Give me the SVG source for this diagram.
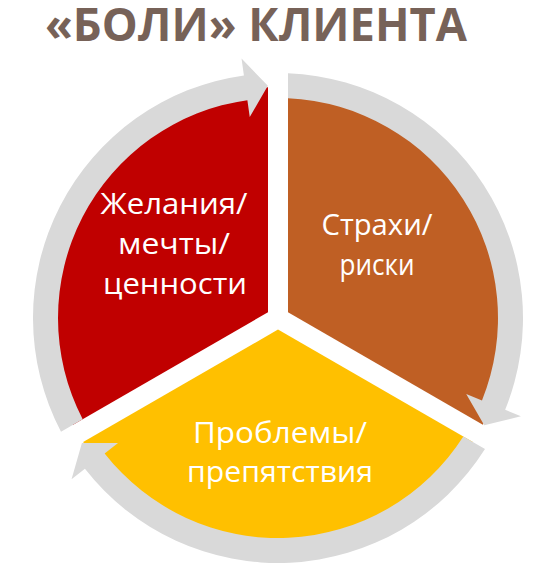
<svg xmlns="http://www.w3.org/2000/svg" width="555" height="573" viewBox="0 0 555 573">
  <style>
    .title { font-family: "Open Sans", "Liberation Sans", sans-serif; font-weight: 700; font-size: 46px; fill: #776258; }
    .lbl { font-family: "Open Sans", "Liberation Sans", sans-serif; font-size: 29px; fill: #FFFFFF; text-anchor: middle; }
    .ring { fill: #D9D9D9; }
  </style>
  <defs>
    <path id="arrow" d="M 10,-219.77 L 10,-244.80 A 245 245 0 0 1 227.16,91.78 L 242.92,98.15 L 206.23,107.35 L 188.22,76.05 L 203.98,82.41 A 220 220 0 0 0 10,-219.77 Z"/>
  </defs>
  <rect width="555" height="573" fill="#FFFFFF"/>
  <text class="title" x="256" y="41" text-anchor="middle" textLength="422" lengthAdjust="spacingAndGlyphs">«БОЛИ» КЛИЕНТА</text>

  <g id="node-desires">
    <path d="M 268,312.23 L 73.14,424.73 A 231 231 0 0 1 268,87.22 Z" fill="#C00000"/>
    <text class="lbl" x="174" y="214" textLength="147" lengthAdjust="spacingAndGlyphs">Желания/</text>
    <text class="lbl" x="174" y="254" textLength="112" lengthAdjust="spacingAndGlyphs">мечты/</text>
    <text class="lbl" x="175" y="294" textLength="144" lengthAdjust="spacingAndGlyphs">ценности</text>
  </g>

  <g id="node-fears">
    <path d="M 288,312.23 L 288,87.22 A 231 231 0 0 1 482.86,424.73 Z" fill="#BF5F24"/>
    <text class="lbl" x="377" y="235" textLength="111" lengthAdjust="spacingAndGlyphs">Страхи/</text>
    <text class="lbl" x="377" y="275" textLength="75" lengthAdjust="spacingAndGlyphs">риски</text>
  </g>

  <g id="node-problems">
    <path d="M 278,329.55 L 472.86,442.05 A 231 231 0 0 1 83.14,442.04 Z" fill="#FFC000"/>
    <text class="lbl" x="280" y="443" textLength="174" lengthAdjust="spacingAndGlyphs">Проблемы/</text>
    <text class="lbl" x="280" y="482" textLength="186" lengthAdjust="spacingAndGlyphs">препятствия</text>
  </g>

  <g id="connectors" transform="translate(278 318)">
    <use href="#arrow" class="ring"/>
    <use href="#arrow" class="ring" transform="rotate(120)"/>
    <use href="#arrow" class="ring" transform="rotate(240)"/>
  </g>
</svg>
